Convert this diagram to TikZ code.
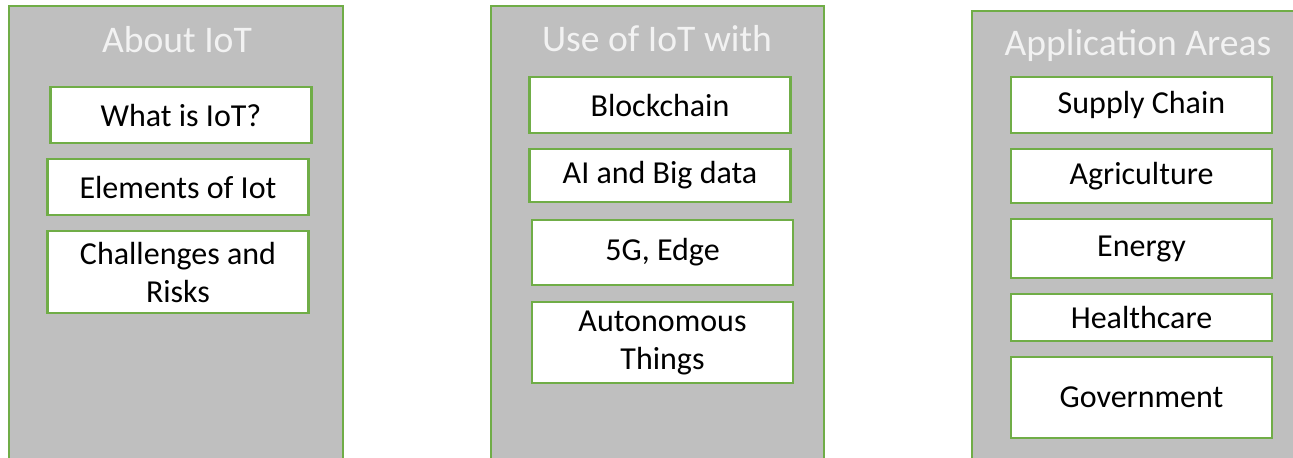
\documentclass[tikz,border=0pt]{standalone}
\usepackage{fontspec}
\setmainfont{Carlito}
\definecolor{panelgrey}{HTML}{BFBFBF}
\definecolor{linegreen}{HTML}{70AD47}
\definecolor{titlewhite}{HTML}{F2F2F2}
\tikzset{
  panel/.style={draw=linegreen, line width=1.1pt, fill=panelgrey},
  paneltitle/.style={text=titlewhite, font=\fontsize{18.8}{22}\selectfont},
  item/.style={draw=linegreen, line width=1.2pt, fill=white, minimum width=130.5pt,
    inner sep=0pt, align=center, font=\fontsize{16}{19}\selectfont}
}
\begin{document}
\begin{tikzpicture}[x=0.5pt, y=-0.5pt]
\useasboundingbox (0,0) rectangle (1293,457);
\clip (0,0) rectangle (1293,457);
% About IoT
\draw[panel] (9,6) rectangle (343,470);
\node[paneltitle] (about) at (177,40) {About IoT};
\node[item, minimum height=28pt] (what) at (181,115) {What is IoT?};
\node[item, minimum height=28pt] (elements) at (178,187) {Elements of Iot};
\node[item, minimum height=41pt] (challenges) at (178,272) {Challenges and\\Risks};

% Use of IoT with
\draw[panel] (491,6) rectangle (824,470);
\node[paneltitle] (usewith) at (657,39) {Use of IoT with};
\node[item, minimum height=28pt] (blockchain) at (660,105) {Blockchain};
\node[item, minimum height=26.5pt] (aibig) at (660,175.5) {AI and Big data};
\node[item, minimum height=32.5pt] (fiveg) at (662.5,252.5) {5G, Edge};
\node[item, minimum height=40.5pt] (autonomous) at (662.5,342.5) {Autonomous\\Things};

% Application Areas
\draw[panel] (972,11) rectangle (1300,470);
\node[paneltitle] (areas) at (1138,45) {Application Areas};
\node[item, minimum height=28pt] (supply) at (1141.5,105) {Supply Chain};
\node[item, minimum height=27pt] (agri) at (1141.5,176) {Agriculture};
\node[item, minimum height=29.5pt] (energy) at (1141.5,248.5) {Energy};
\node[item, minimum height=23.5pt] (health) at (1141.5,317.5) {Healthcare};
\node[item, minimum height=40.5pt] (govt) at (1141.5,397.5) {Government};
\end{tikzpicture}
\end{document}
